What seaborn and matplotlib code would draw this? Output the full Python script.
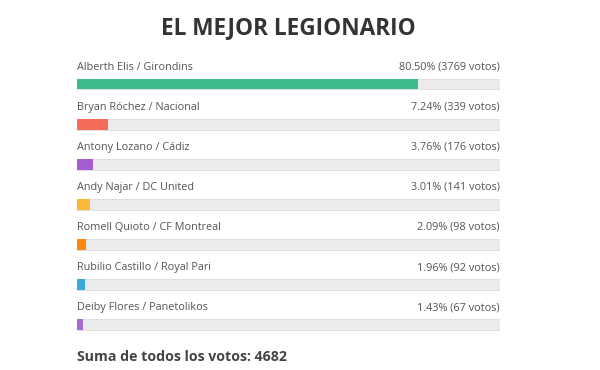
import matplotlib
matplotlib.use("Agg")
import matplotlib.pyplot as plt
import seaborn as sns
import pandas as pd

title = "EL MEJOR LEGIONARIO"
names = ["Alberth Elis / Girondins", "Bryan Róchez / Nacional", "Antony Lozano / Cádiz",
         "Andy Najar / DC United", "Romell Quioto / CF Montreal", "Rubilio Castillo / Royal Pari",
         "Deiby Flores / Panetolikos"]
percents = [80.50, 7.24, 3.76, 3.01, 2.09, 1.96, 1.43]
votes = [3769, 339, 176, 141, 98, 92, 67]
total = 4682
colors = ["#3dba8c", "#f56a58", "#a55ecf", "#fbb938", "#fb8a0c", "#3aaadb", "#a66bd3"]

sns.set_theme(style="white")
plt.rcParams["font.family"] = ["Open Sans", "DejaVu Sans"]

df = pd.DataFrame({"name": names, "pct": percents, "full": [100.0] * len(names)})

fig = plt.figure(figsize=(6, 3.7), dpi=100)
ax = fig.add_axes([77 / 600, 1 - 344.5 / 370, 423 / 600, 280.5 / 370])

sns.barplot(data=df, y="name", x="full", color="#ebebeb", width=0.27, ax=ax,
            edgecolor="#dcdcdc", linewidth=0.6, orient="h", saturation=1)
sns.barplot(data=df, y="name", x="pct", hue="name", palette=colors, legend=False,
            width=0.27, ax=ax, linewidth=0, orient="h", saturation=1)

ax.set_xlim(0, 100)
ax.set_ylim(6.5, -0.5)
ax.axis("off")

for i, (n, p, v) in enumerate(zip(names, percents, votes)):
    ax.text(0, i - 0.42, n, ha="left", va="center", fontsize=7.8, color="#555555")
    ax.text(100, i - 0.42, f"{p:.2f}% ({v} votos)", ha="right", va="center",
            fontsize=7.8, color="#555555")

fig.text(288 / 600, 1 - 28 / 370, title, ha="center", va="center", fontsize=16.3,
         fontweight="bold", color="#333333")
fig.text(77 / 600, 1 - 357 / 370, f"Suma de todos los votos: {total}", ha="left",
         va="center", fontsize=10.2, fontweight="bold", color="#444444")

fig.savefig("out.png", dpi=100, facecolor="white")
